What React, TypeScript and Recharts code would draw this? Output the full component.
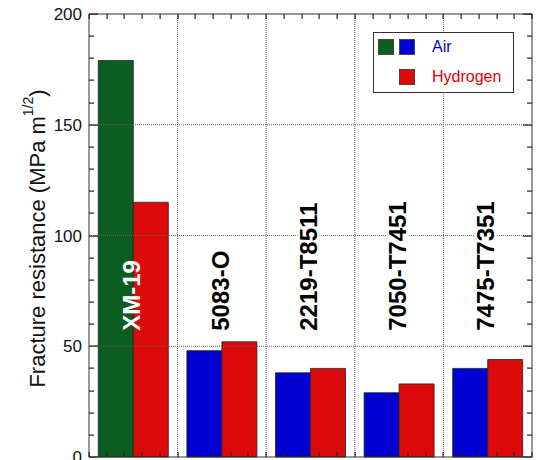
import React from "react";
import { BarChart, Bar, XAxis, YAxis, Cell, LabelList, ReferenceLine, Legend } from "recharts";

const alloys = ["XM-19", "5083-O", "2219-T8511", "7050-T7451", "7475-T7351"];
const airValues = [179, 48, 38, 29, 40];
const hydrogenValues = [115, 52, 40, 33, 44];
const airColors = ["#0b5e1f", "#0000d2", "#0000d2", "#0000d2", "#0000d2"];
const labelColors = ["#ffffff", "#000000", "#000000", "#000000", "#000000"];
const yTicks = [0, 10, 20, 30, 40, 50, 60, 70, 80, 90, 100, 110, 120, 130, 140, 150, 160, 170, 180, 190, 200];
const yLabelTicks = [0, 50, 100, 150, 200];
const yGrid = [50, 100, 150];
const xTickSteps = [0, 1, 2, 3, 4, 5, 6, 7, 8, 9, 10, 11, 12, 13, 14, 15, 16, 17, 18, 19, 20, 21, 22, 23, 24, 25];
const yMax = 200;
const labelBase = 57;

const data = alloys.map((name, i) => ({ name, air: airValues[i], hydrogen: hydrogenValues[i] }));

const FONT = '"Liberation Sans", Arial, Helvetica, sans-serif';
const AXIS = "#333";
const TICK = "#222";
const GREEN = "#0b5e1f";
const BLUE = "#0000d2";
const RED = "#dc0a0a";
const GAP = 0.105; // barCategoryGap as fraction of band

// inward frame ticks, geometry taken from the first air bar as laid out by recharts
function frameTicks(bx: number, by: number, w: number, h: number) {
  const perUnit = h / airValues[0];
  const bottom = by + h;
  const top = bottom - yMax * perUnit;
  const band = (2 * w) / (1 - 2 * GAP);
  const left = bx - GAP * band;
  const right = left + alloys.length * band;
  const last = xTickSteps[xTickSteps.length - 1];
  return (
    <g className="frame-ticks">
      {xTickSteps.map((t) => {
        const px = Math.round(left + (t / last) * (right - left));
        return (
          <g key={`x${t}`}>
            <rect x={px - 0.5} y={bottom - 5} width={1.2} height={5} fill={TICK} />
            <rect x={px - 0.5} y={top} width={1.2} height={5} fill={TICK} />
          </g>
        );
      })}
      {yTicks.map((v) => {
        const py = Math.round(bottom - v * perUnit);
        const len = yLabelTicks.includes(v) ? 9 : 5;
        return (
          <g key={`y${v}`}>
            <rect x={left} y={py - 0.5} width={len} height={1.2} fill={TICK} />
            <rect x={right - len} y={py - 0.5} width={len} height={1.2} fill={TICK} />
          </g>
        );
      })}
    </g>
  );
}

function YTitle(props: any) {
  const vb = props.viewBox || {};
  const cx = 37;
  const cy = Number(vb.y ?? 14) + Number(vb.height ?? 443) / 2 + 3;
  return (
    <text
      x={cx}
      y={cy}
      transform={`rotate(-90, ${cx}, ${cy})`}
      textAnchor="middle"
      dominantBaseline="central"
      fontSize={22}
      fontFamily={FONT}
      fill="#111"
    >
      Fracture resistance (MPa m
      <tspan dy={-9} fontSize={14}>1/2</tspan>
      <tspan dy={9}>)</tspan>
    </text>
  );
}

function AlloyLabel(props: any) {
  const x = Number(props.x);
  const y = Number(props.y);
  const width = Number(props.width);
  const height = Number(props.height);
  const index = Number(props.index);
  const value = String(props.value);
  const air = airValues[index];
  const bottom = y + height;
  const by = bottom - (labelBase * height) / air;
  const cx = x + width - 2;
  const len = value.length * 13.2;
  const color = labelColors[index];
  return (
    <g>
      <g transform={`translate(${cx}, ${by}) rotate(-90)`}>
        {color !== "#ffffff" && <rect x={-2} y={-11} width={len + 4} height={22} fill="#fff" />}
        <text x={0} y={8.6} fontSize={24} fontWeight="bold" fontFamily={FONT} fill={color}>
          {value}
        </text>
      </g>
      {index === 0 && frameTicks(x, y, width, height)}
    </g>
  );
}

function LegendBox() {
  const sq = (left: number, top: number, color: string) => (
    <div
      style={{
        position: "absolute",
        left,
        top,
        width: 16,
        height: 16,
        background: color,
        border: "1px solid #444",
        boxSizing: "border-box",
      }}
    />
  );
  return (
    <div
      style={{
        position: "relative",
        width: 141,
        height: 61,
        border: "1px solid #333",
        background: "#fff",
        boxSizing: "border-box",
        fontFamily: FONT,
        fontSize: 16,
      }}
    >
      {sq(4, 6, GREEN)}
      {sq(25, 6, BLUE)}
      <span style={{ position: "absolute", left: 58, top: 4, color: "#0000e6", lineHeight: "20px" }}>Air</span>
      {sq(25, 36, RED)}
      <span style={{ position: "absolute", left: 58, top: 34, color: "#e00000", lineHeight: "20px" }}>Hydrogen</span>
    </div>
  );
}

export default function App() {
  return (
    <div style={{ position: "absolute", left: 0, top: 0, width: 537, height: 460, background: "#fff" }}>
      <BarChart
        width={537}
        height={460}
        data={data}
        margin={{ top: 0, right: 0, bottom: 0, left: 0 }}
        barCategoryGap={`${GAP * 100}%`}
        barGap={0}
      >
        <XAxis xAxisId="cat" dataKey="name" hide />
        <XAxis
          xAxisId="bt"
          type="number"
          orientation="bottom"
          domain={[0, 25]}
          allowDataOverflow
          height={3}
          tick={false}
          tickLine={false}
          axisLine={{ stroke: AXIS }}
        />
        <XAxis
          xAxisId="tp"
          type="number"
          orientation="top"
          domain={[0, 25]}
          allowDataOverflow
          height={14}
          tick={false}
          tickLine={false}
          axisLine={{ stroke: AXIS }}
        />
        <YAxis
          yAxisId="l"
          domain={[0, yMax]}
          ticks={yLabelTicks}
          interval={0}
          width={89}
          tickSize={0}
          tickMargin={7}
          tickLine={false}
          tick={{ fontSize: 17, fill: "#111", fontFamily: FONT }}
          axisLine={{ stroke: AXIS }}
          label={YTitle}
        />
        <YAxis
          yAxisId="r"
          orientation="right"
          domain={[0, yMax]}
          allowDataOverflow
          width={5}
          tick={false}
          tickLine={false}
          axisLine={{ stroke: AXIS }}
        />
        {yGrid.map((v) => (
          <ReferenceLine key={`h${v}`} y={v} yAxisId="l" xAxisId="cat" stroke="#666" strokeDasharray="1 1" />
        ))}
        {alloys.slice(1).map((a) => (
          <ReferenceLine key={`v${a}`} x={a} position="start" xAxisId="cat" yAxisId="l" stroke="#666" strokeDasharray="1 1" />
        ))}
        <Bar dataKey="air" xAxisId="cat" yAxisId="l" stroke="#222" strokeWidth={0.8} isAnimationActive={false}>
          {data.map((d, i) => (
            <Cell key={d.name} fill={airColors[i]} />
          ))}
          <LabelList dataKey="name" content={AlloyLabel} />
        </Bar>
        <Bar dataKey="hydrogen" xAxisId="cat" yAxisId="l" fill={RED} stroke="#222" strokeWidth={0.8} isAnimationActive={false} />
        <Legend
          layout="vertical"
          align="center"
          verticalAlign="middle"
          content={() => <LegendBox />}
          wrapperStyle={{ left: 373, top: 32, width: 141, height: 61 }}
        />
      </BarChart>
    </div>
  );
}
